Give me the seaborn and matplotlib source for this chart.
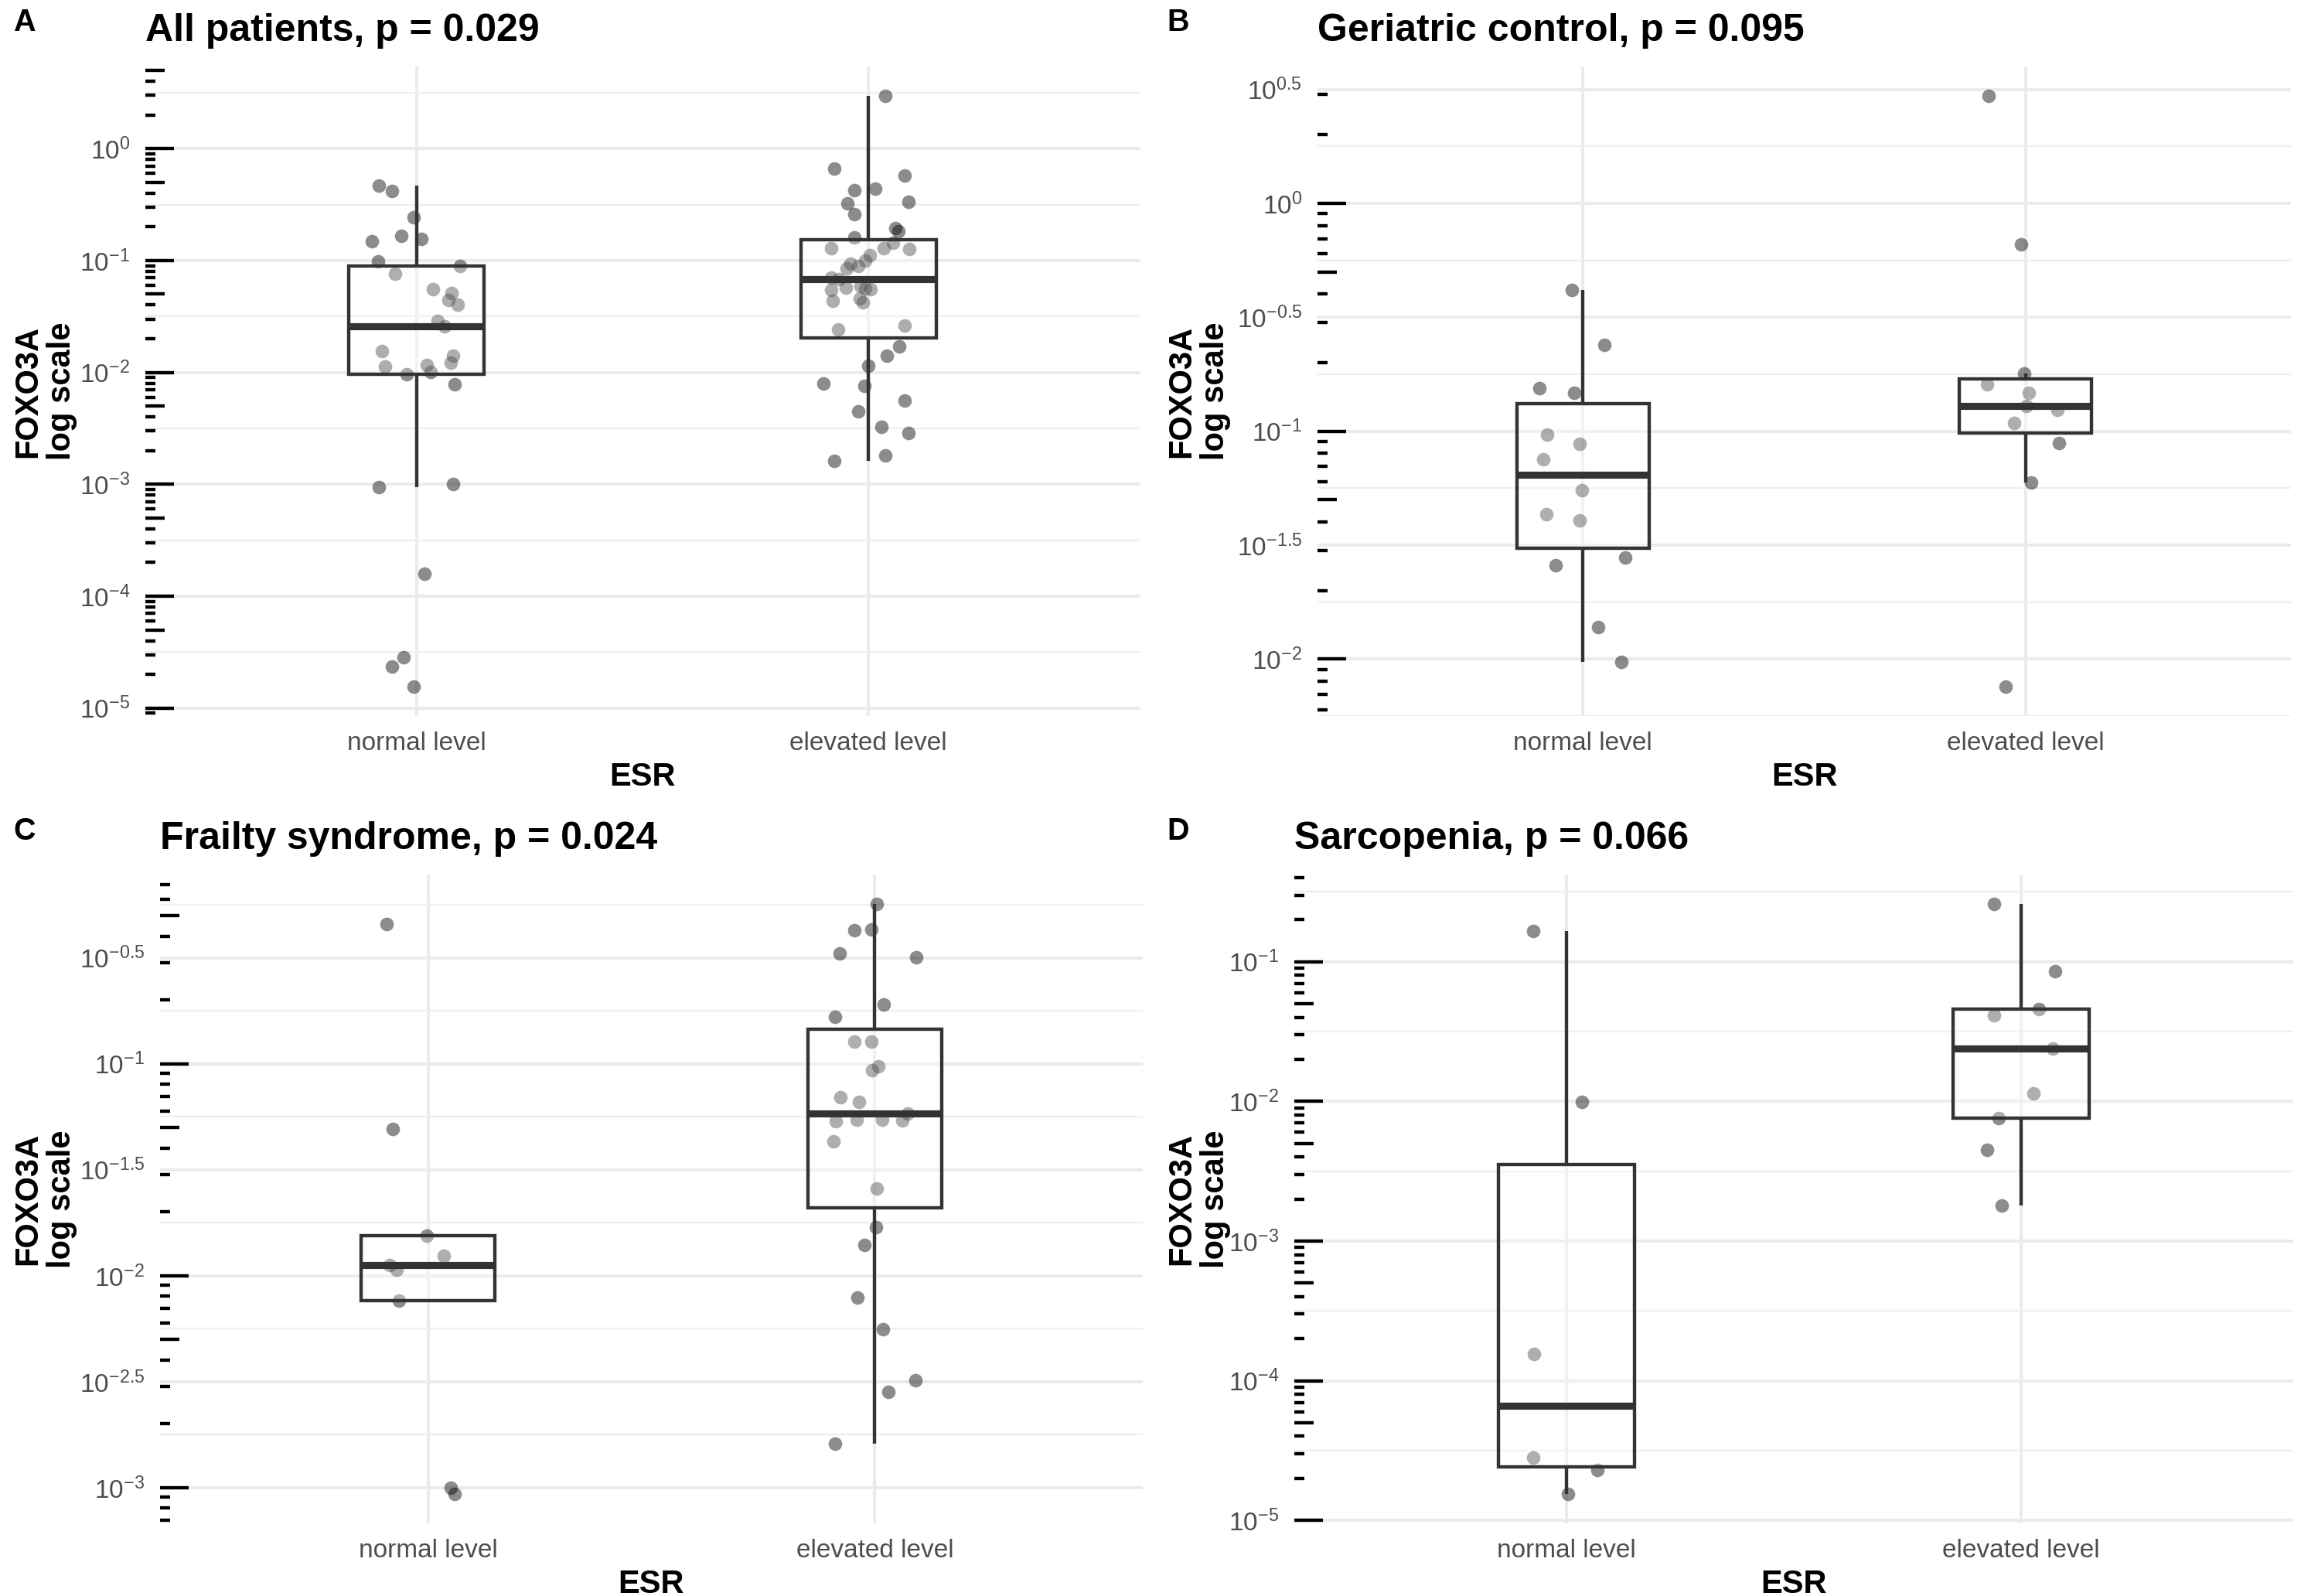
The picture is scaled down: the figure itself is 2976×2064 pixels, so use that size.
import numpy as np
import pandas as pd
import matplotlib
matplotlib.use("Agg")
import matplotlib.pyplot as plt
from matplotlib.ticker import FixedLocator, FuncFormatter, NullFormatter
import seaborn as sns

# ================================
# Data (FOXO3A values, plus horizontal jitter of each point)
# ================================
groups = ["normal level", "elevated level"]

a_normal = [0.464, 0.418, 0.242, 0.149, 0.166, 0.156, 0.098, 0.076, 0.090, 0.0555,
            0.051, 0.044, 0.040, 0.0289, 0.026, 0.0156, 0.0112, 0.0097, 0.0116, 0.0101,
            0.0142, 0.0123, 0.0078, 0.00095, 0.00101, 0.000158, 2.87e-5, 2.34e-5, 1.56e-5]
a_normal_jit = [-0.083, -0.055, -0.007, -0.098, -0.034, 0.010, -0.085, -0.047, 0.096, 0.036,
                0.078, 0.070, 0.091, 0.047, 0.062, -0.076, -0.070, -0.021, 0.023, 0.031,
                0.081, 0.076, 0.085, -0.083, 0.081, 0.018, -0.029, -0.055, -0.007]
a_elev = [2.95, 0.664, 0.573, 0.436, 0.427, 0.335, 0.324, 0.261, 0.195, 0.183,
          0.161, 0.145, 0.129, 0.129, 0.127, 0.111, 0.100, 0.0933, 0.0900, 0.0853,
          0.0708, 0.0681, 0.0587, 0.0571, 0.0562, 0.0556, 0.0542, 0.0461, 0.0434, 0.0420,
          0.0264, 0.0241, 0.0170, 0.0141, 0.0114, 0.00794, 0.00762, 0.00562, 0.00447, 0.00327,
          0.00286, 0.00181, 0.00163]
a_elev_jit = [0.037, -0.076, 0.080, 0.015, -0.031, 0.089, -0.047, -0.031, 0.060, 0.066,
              -0.032, 0.054, 0.034, -0.082, 0.090, 0.003, -0.008, -0.040, -0.022, -0.048,
              -0.082, -0.065, -0.017, -0.050, -0.007, 0.005, -0.082, -0.019, -0.079, -0.013,
              0.080, -0.068, 0.068, 0.041, 0.000, -0.100, -0.009, 0.080, -0.022, 0.029,
              0.089, 0.037, -0.075]

b_normal = [0.418, 0.240, 0.154, 0.147, 0.0964, 0.0879, 0.0753, 0.0550, 0.0432, 0.0406,
            0.0279, 0.0257, 0.0138, 0.0097]
b_normal_jit = [-0.025, 0.048, -0.099, -0.020, -0.081, -0.008, -0.089, -0.002, -0.083, -0.008,
                0.096, -0.061, 0.035, 0.087]
b_elev = [2.96, 0.662, 0.179, 0.160, 0.147, 0.129, 0.124, 0.109, 0.0887, 0.0594, 0.00757]
b_elev_jit = [-0.083, -0.010, -0.003, -0.086, 0.007, 0.002, 0.073, -0.026, 0.076, 0.012, -0.045]

c_normal = [0.457, 0.0492, 0.0154, 0.0124, 0.0112, 0.0107, 0.00762, 0.00100, 0.000935]
c_normal_jit = [-0.093, -0.079, -0.002, 0.035, -0.086, -0.071, -0.066, 0.051, 0.060]
c_elev = [0.568, 0.431, 0.426, 0.331, 0.319, 0.191, 0.167, 0.127, 0.127, 0.0973,
          0.0931, 0.0693, 0.0659, 0.0581, 0.0546, 0.0546, 0.0543, 0.0535, 0.0431, 0.0259,
          0.0169, 0.0140, 0.00787, 0.00561, 0.00322, 0.00284, 0.00161]
c_elev_jit = [0.005, -0.007, -0.046, -0.079, 0.093, 0.020, -0.089, -0.046, -0.007, 0.008,
              -0.005, -0.076, -0.036, 0.074, -0.040, 0.017, 0.061, -0.088, -0.093, 0.005,
              0.003, -0.023, -0.038, 0.018, 0.091, 0.030, -0.089]

d_normal = [0.166, 0.00995, 0.000156, 2.82e-5, 2.30e-5, 1.55e-5]
d_normal_jit = [-0.073, 0.034, -0.072, -0.073, 0.067, 0.003]
d_elev = [0.259, 0.0859, 0.0457, 0.0413, 0.0239, 0.0114, 0.00755, 0.00448, 0.00180]
d_elev_jit = [-0.059, 0.075, 0.039, -0.059, 0.070, 0.028, -0.049, -0.075, -0.042]

letters = ["A", "B", "C", "D"]
titles = ["All patients, p = 0.029", "Geriatric control, p = 0.095",
          "Frailty syndrome, p = 0.024", "Sarcopenia, p = 0.066"]
label_steps = [1.0, 0.5, 0.5, 1.0]   # spacing of labelled breaks, in decades

panel_data = [
    (a_normal, a_normal_jit, a_elev, a_elev_jit),
    (b_normal, b_normal_jit, b_elev, b_elev_jit),
    (c_normal, c_normal_jit, c_elev, c_elev_jit),
    (d_normal, d_normal_jit, d_elev, d_elev_jit),
]

# ================================
# Style
# ================================
sns.set_style("white")
plt.rcParams["font.family"] = ["Liberation Sans", "DejaVu Sans"]
plt.rcParams["mathtext.fontset"] = "custom"
plt.rcParams["mathtext.rm"] = "Liberation Sans"
plt.rcParams["mathtext.it"] = "Liberation Sans"
plt.rcParams["mathtext.bf"] = "Liberation Sans:bold"
plt.rcParams["text.color"] = "black"
plt.rcParams["axes.labelcolor"] = "black"

W, H = 2976, 2064
DPI = 300
fig = plt.figure(figsize=(W / DPI, H / DPI), dpi=DPI)

# panel boxes in pixels: left, right, top, bottom
boxes = [(188, 1474, 86, 926), (1704, 2963, 86, 926),
         (207, 1478, 1131, 1970), (1674, 2966, 1131, 1970)]
letter_pos = [(17, 40), (1509, 40), (17, 1086), (1509, 1086)]
ylab_x = [58, 1550, 58, 1550]

GREY = "#4d4d4d"
LINE = "#333333"


def fmt_pow(v, pos):
    e = np.log10(v)
    if abs(e - round(e)) < 1e-6:
        s = f"{int(round(e))}"
    else:
        s = f"{e:.1f}"
    return rf"$10^{{{s}}}$"


for i in range(4):
    norm, norm_jit, elev, elev_jit = panel_data[i]
    l, r, t, b = boxes[i]
    ax = fig.add_axes([l / W, 1 - b / H, (r - l) / W, (b - t) / H])

    df = pd.DataFrame({
        "ESR": [groups[0]] * len(norm) + [groups[1]] * len(elev),
        "FOXO3A": norm + elev,
    })

    sns.boxplot(data=df, x="ESR", y="FOXO3A", order=groups, width=0.3, log_scale=True,
                linecolor=LINE, linewidth=1.05, showfliers=False, showcaps=False,
                boxprops={"facecolor": (1, 1, 1, 0.3)},
                medianprops={"linewidth": 2.2},
                ax=ax, zorder=2)

    xs = np.r_[np.array(norm_jit), 1 + np.array(elev_jit)]
    sns.scatterplot(x=xs, y=df["FOXO3A"].values, color="black", alpha=0.45, s=18,
                    linewidth=0, ax=ax, zorder=1)

    # limits: ggplot-like 5% expansion in log space, 0.6 on the discrete axis
    lv = np.log10(df["FOXO3A"].values)
    lo, hi = lv.min(), lv.max()
    pad = 0.05 * (hi - lo)
    lo, hi = lo - pad, hi + pad
    ax.set_ylim(10 ** lo, 10 ** hi)
    ax.set_xlim(-0.6, 1.6)

    step = label_steps[i]
    major = np.arange(np.ceil(lo / step) * step, hi + 1e-9, step)
    minor = np.arange(np.floor(lo / step) * step + step / 2, hi, step)
    minor = minor[(minor > lo) & (minor < hi)]
    ax.yaxis.set_major_locator(FixedLocator(10 ** major))
    ax.yaxis.set_major_formatter(FuncFormatter(fmt_pow))
    ax.yaxis.set_minor_locator(FixedLocator(10 ** minor))
    ax.yaxis.set_minor_formatter(NullFormatter())
    ax.set_xticks([0, 1])
    ax.set_xticklabels(groups)

    ax.grid(True, which="major", color="#ebebeb", lw=1.0)
    ax.grid(True, which="minor", axis="y", color="#efefef", lw=0.55)
    ax.set_axisbelow(True)
    for s in ax.spines.values():
        s.set_visible(False)

    ax.tick_params(axis="both", which="major", length=2.4, width=0.8, color=GREY,
                   labelcolor=GREY, labelsize=8, pad=2.4)
    ax.tick_params(axis="y", which="minor", length=0)

    # annotation_logticks-style marks on the left edge of the panel
    axw = r - l
    ytr = ax.get_yaxis_transform()
    for n in range(int(np.floor(lo)) - 1, int(np.ceil(hi)) + 1):
        for k in range(1, 10):
            v = np.log10(k) + n
            if v < lo or v > hi:
                continue
            length = 37 if k == 1 else (25 if k == 5 else 13)
            ax.plot([0, length / axw], [10 ** v, 10 ** v], transform=ytr, color="black",
                    lw=1.05, solid_capstyle="butt", zorder=3, clip_on=False)

    ax.set_title(titles[i], loc="left", fontsize=12, fontweight="bold", pad=8,
                 color="black")
    ax.set_xlabel("ESR", fontsize=10, fontweight="bold", labelpad=2, color="black")
    ax.set_ylabel("")

    fig.text(ylab_x[i] / W, 1 - (t + b) / 2 / H, "FOXO3A\nlog scale", rotation=90,
             ha="center", va="center", multialignment="center", linespacing=1.1,
             fontsize=10, fontweight="bold", color="black")
    lx, ly = letter_pos[i]
    fig.text(lx / W, 1 - ly / H, letters[i], fontsize=9.5, fontweight="bold",
             va="baseline", ha="left", color="black")

fig.savefig("out.png", dpi=DPI)
